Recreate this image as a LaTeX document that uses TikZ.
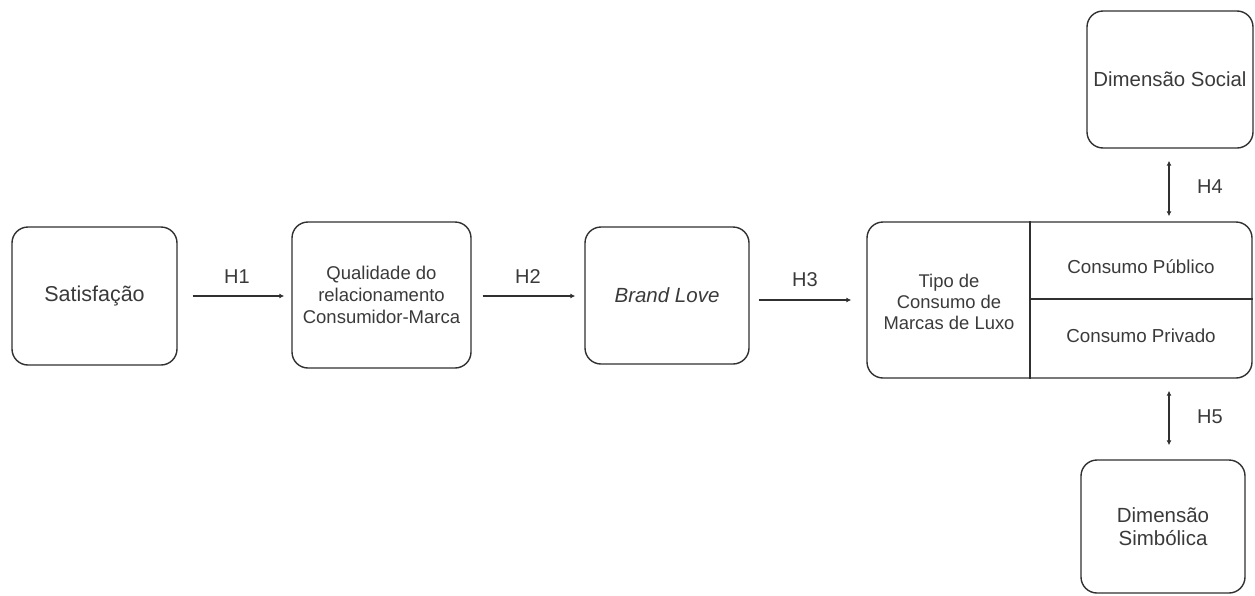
\documentclass[tikz,border=0pt]{standalone}
\usepackage{fontspec}
\setmainfont{Liberation Sans}
\usetikzlibrary{arrows.meta,calc}
\definecolor{ink}{HTML}{303030}
\definecolor{txt}{HTML}{3A3A3A}
\begin{document}
\begin{tikzpicture}[x=1pt,y=-1pt,
  box/.style={draw=ink,line width=1.4pt,rounded corners=16pt,inner sep=0pt,text=txt,align=center},
  lbl/.style={text=txt,inner sep=0pt,font=\fontsize{20}{24}\selectfont},
  arr/.style={draw=ink,line width=1.4pt,-{Latex[length=5pt,width=5pt]}},
  darr/.style={draw=ink,line width=1.4pt,{Latex[length=5pt,width=5pt]}-{Latex[length=5pt,width=5pt]}}]
\useasboundingbox (0,0) rectangle (1255,595);
% boxes
\node[box,minimum width=165pt,minimum height=138pt,font=\fontsize{21.5}{25}\selectfont] (sat) at (94.5,296) {Satisfação};
\node[box,minimum width=179pt,minimum height=146pt,font=\fontsize{18.5}{22}\selectfont] (qual) at (381.5,295) {Qualidade do\\relacionamento\\Consumidor-Marca};
\node[box,minimum width=164pt,minimum height=137pt,font=\fontsize{20.5}{24}\selectfont\itshape] (brand) at (667,295.5) {Brand Love};
\node[box,minimum width=385pt,minimum height=156pt] (big) at (1059.5,300) {};
\draw[ink,line width=1.4pt] (big.north -| 1030,0) coordinate (dtop) -- (big.south -| 1030,0) coordinate (dbot);
\draw[ink,line width=1.4pt] (1030,299) coordinate (hl) -- (big.east |- hl);
\node[lbl,align=center,font=\fontsize{18.4}{21}\selectfont] (tipo) at (949,302) {Tipo de\\Consumo de\\Marcas de Luxo};
\node[lbl,font=\fontsize{18.8}{22}\selectfont] (pub) at (1141,267) {Consumo Público};
\node[lbl,font=\fontsize{18.8}{22}\selectfont] (priv) at (1141,336) {Consumo Privado};
\node[box,minimum width=166pt,minimum height=137pt,font=\fontsize{20.4}{24}\selectfont] (dsoc) at (1170,79.5) {Dimensão Social};
\node[box,minimum width=164pt,minimum height=133pt,font=\fontsize{20.5}{23}\selectfont] (dsim) at (1163,526.5) {Dimensão\\Simbólica};
% connectors
\coordinate (ax) at (1169,0);
\draw[arr,shorten <=15pt,shorten >=7pt] (sat.east) -- (sat.east -| qual.west);
\draw[arr,shorten <=11pt,shorten >=9pt] (qual.east |- 0,296) -- (brand.west |- 0,296);
\draw[arr,shorten <=9pt,shorten >=15pt] (brand.east |- big.west) -- (big.west);
\draw[darr,shorten <=5pt,shorten >=12pt] (big.north -| ax) -- (dsoc.south -| ax);
\draw[darr,shorten <=12pt,shorten >=14pt] (big.south -| ax) -- (dsim.north -| ax);
% labels
\node[lbl] (h1) at (237,277) {H1};
\node[lbl] (h2) at (528,277) {H2};
\node[lbl] (h3) at (805,280) {H3};
\node[lbl] (h4) at (1210,187) {H4};
\node[lbl] (h5) at (1210,417) {H5};
\end{tikzpicture}
\end{document}
